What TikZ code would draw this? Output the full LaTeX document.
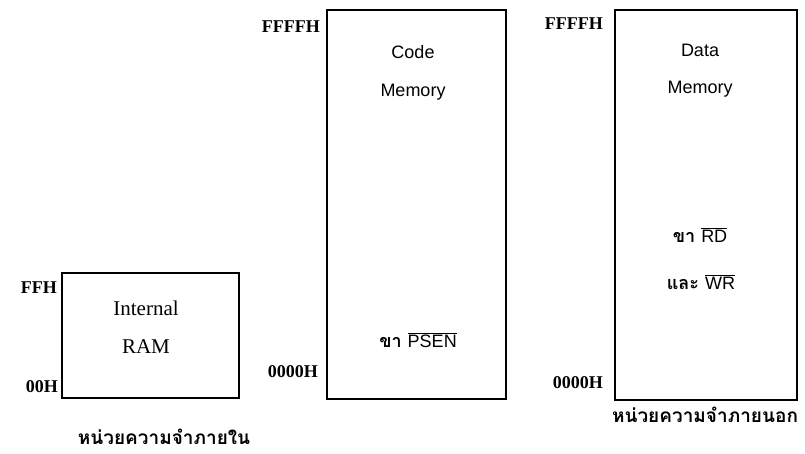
\documentclass[tikz,border=0pt]{standalone}
\usepackage{fontspec}
\setmainfont{Liberation Sans}
\newfontfamily\serifbody{Liberation Serif}
\newfontfamily\thaifont[Script=Thai]{Loma}
\begin{document}
\begin{tikzpicture}[x=1pt,y=-1pt,
  membox/.style={draw=black,line width=1.6pt},
  addr/.style={font=\serifbody\bfseries\fontsize{18}{20}\selectfont,anchor=east,inner sep=0pt},
  boxtext/.style={font=\fontsize{18}{20}\selectfont,inner sep=0pt},
  ramtext/.style={font=\serifbody\fontsize{21}{23}\selectfont,inner sep=0pt},
  caption/.style={font=\thaifont\bfseries\fontsize{19}{22}\selectfont,inner sep=0pt},
  pin/.style={font=\thaifont\bfseries\fontsize{18}{20}\selectfont,inner sep=0pt}]
\useasboundingbox (0,0) rectangle (805,453);

% memory blocks
\draw[membox] (62,273) rectangle (239,398);
\draw[membox] (327,10) rectangle (506,399);
\draw[membox] (615,10) rectangle (797,400);

% internal RAM
\node[addr] (ffh) at (57,288) {FFH};
\node[addr] (ooh) at (58,387) {00H};
\node[ramtext] (int) at (146,308) {Internal};
\node[ramtext] (rama) at (146,347) {RAM};
\node[caption] (capin) at (164,437) {หน่วยความจำภายใน};

% code memory
\node[addr] (cffff) at (320,27) {FFFFH};
\node[addr] (c0000) at (318,372) {0000H};
\node[boxtext] (ctitle) at (413,52) {Code};
\node[boxtext] (cmem) at (413,92) {Memory};
\node[pin] (psen) at (418,340) {ขา $\overline{\mbox{\mdseries\rmfamily PSEN}}$};

% data memory
\node[addr] (dffff) at (603,24) {FFFFH};
\node[addr] (d0000) at (603,383) {0000H};
\node[boxtext] (dtitle) at (700,50) {Data};
\node[boxtext] (dmem) at (700,89) {Memory};
\node[pin] (rd) at (700,235) {ขา $\overline{\mbox{\mdseries\rmfamily RD}}$};
\node[pin] (wr) at (701,282) {และ $\overline{\mbox{\mdseries\rmfamily WR}}$};
\node[caption] (capout) at (705,415) {หน่วยความจำภายนอก};
\end{tikzpicture}
\end{document}
